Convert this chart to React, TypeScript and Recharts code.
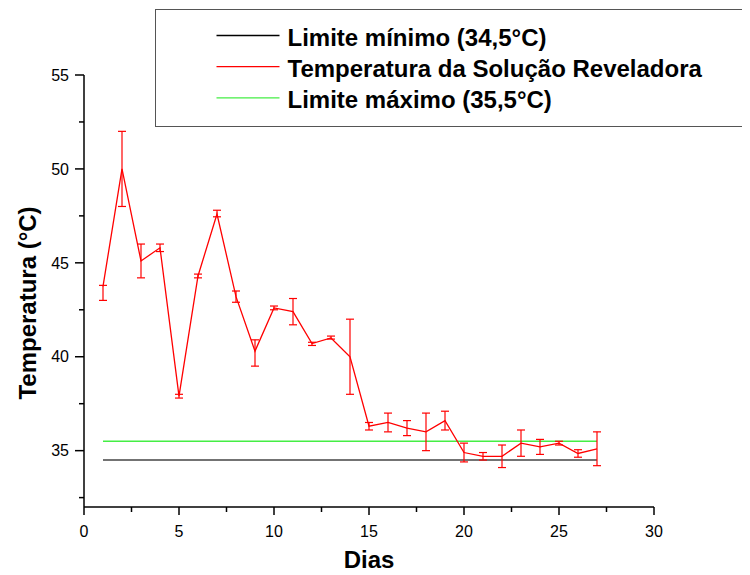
import React from 'react';
import { LineChart, Line, XAxis, YAxis, ErrorBar, Legend } from 'recharts';

const dias = [1, 2, 3, 4, 5, 6, 7, 8, 9, 10, 11, 12, 13, 14, 15, 16, 17, 18, 19, 20, 21, 22, 23, 24, 25, 26, 27];
const temperatura = [43.75, 50.0, 45.1, 45.8, 37.9, 44.3, 47.6, 43.2, 40.3, 42.6, 42.4, 40.7, 41.0, 40.0, 36.3, 36.5, 36.2, 36.0, 36.6, 34.9, 34.7, 34.7, 35.4, 35.2, 35.4, 34.85, 35.1];
const erroInferior = [0.75, 2.0, 0.9, 0.2, 0.1, 0.1, 0.15, 0.3, 0.8, 0.1, 0.7, 0.1, 0.06, 2.0, 0.2, 0.5, 0.4, 1.0, 0.5, 0.5, 0.2, 0.6, 0.7, 0.4, 0.1, 0.2, 0.9];
const erroSuperior = [0.05, 2.0, 0.9, 0.2, 0.1, 0.1, 0.2, 0.3, 0.6, 0.1, 0.7, 0.07, 0.1, 2.0, 0.2, 0.5, 0.4, 1.0, 0.5, 0.5, 0.2, 0.6, 0.7, 0.4, 0.1, 0.2, 0.9];

const limiteMinimo = 34.5;
const limiteMaximo = 35.5;
const limiteDias = [1, 27];

const xTicks = [0, 2.5, 5, 7.5, 10, 12.5, 15, 17.5, 20, 22.5, 25, 27.5, 30];
const yTicks = [32.5, 35, 37.5, 40, 42.5, 45, 47.5, 50, 52.5, 55];

const legendItems = [
  { label: 'Limite mínimo (34,5°C)', color: '#000000' },
  { label: 'Temperatura da Solução Reveladora', color: '#ff0000' },
  { label: 'Limite máximo (35,5°C)', color: '#44ee44' },
];

const tempData = dias.map((d, i) => ({
  dia: d,
  temp: temperatura[i],
  err: [erroInferior[i], erroSuperior[i]],
}));
const minData = limiteDias.map((d) => ({ dia: d, v: limiteMinimo }));
const maxData = limiteDias.map((d) => ({ dia: d, v: limiteMaximo }));

const FONT = '"Liberation Sans", Arial, Helvetica, sans-serif';

const XTick = (props: any) => {
  const { x, y, payload } = props;
  const major = payload.value % 5 === 0;
  return (
    <g>
      <line x1={x} x2={x} y1={y} y2={y + (major ? 8 : 5)} stroke="#000" strokeWidth={1.5} />
      {major && (
        <text x={x} y={y + 29.5} textAnchor="middle" fontFamily={FONT} fontSize={16} fill="#000">
          {payload.value}
        </text>
      )}
    </g>
  );
};

const YTick = (props: any) => {
  const { x, y, payload } = props;
  const major = payload.value % 5 === 0;
  return (
    <g>
      <line x1={x - (major ? 9 : 5)} x2={x} y1={y} y2={y} stroke="#000" strokeWidth={1.5} />
      {major && (
        <text x={x - 15} y={y + 5.7} textAnchor="end" fontFamily={FONT} fontSize={16} fill="#000">
          {payload.value}
        </text>
      )}
    </g>
  );
};

const LegendBox = () => (
  <div
    style={{
      position: 'relative',
      width: 595,
      height: 118,
      boxSizing: 'border-box',
      borderTop: '1.5px solid #555',
      borderLeft: '1.5px solid #555',
      borderBottom: '1.5px solid #555',
      background: '#fff',
    }}
  >
    <svg width={590} height={115} style={{ position: 'absolute', left: 0, top: 0 }}>
      {legendItems.map((it, i) => (
        <g key={it.label}>
          <line x1={60.5} x2={123.5} y1={25.5 + i * 31.2} y2={25.5 + i * 31.2} stroke={it.color} strokeWidth={1.3} />
          <text x={131.5} y={35.5 + i * 31.2} fontFamily={FONT} fontWeight="bold" fontSize={24} fill="#000">
            {it.label}
          </text>
        </g>
      ))}
    </svg>
  </div>
);

export default function App() {
  return (
    <LineChart width={742} height={567} margin={{ top: 67, right: 96, bottom: 0, left: 0 }}>
      <XAxis
        type="number"
        dataKey="dia"
        domain={[0, 30]}
        ticks={xTicks}
        interval={0}
        height={68}
        tickSize={0}
        tickMargin={0}
        tickLine={false}
        axisLine={{ stroke: '#000', strokeWidth: 1.5 }}
        tick={<XTick />}
        allowDuplicatedCategory={false}
        label={(p: any) => {
          const vb = p.viewBox || {};
          return (
            <text x={vb.x + vb.width / 2} y={560} textAnchor="middle" fontFamily={FONT} fontWeight="bold" fontSize={24} fill="#000">
              Dias
            </text>
          );
        }}
      />
      <YAxis
        type="number"
        domain={[32, 55]}
        ticks={yTicks}
        interval={0}
        width={76}
        tickSize={0}
        tickMargin={0}
        tickLine={false}
        axisLine={{ stroke: '#000', strokeWidth: 1.5 }}
        tick={<YTick />}
        label={(p: any) => {
          const cy = 295;
          const cx = 28;
          return (
            <text x={cx} y={cy} transform={`rotate(-90 ${cx} ${cy})`} textAnchor="middle" fontFamily={FONT} fontWeight="bold" fontSize={24} fill="#000">
              Temperatura (°C)
            </text>
          );
        }}
      />
      <Legend
        layout="horizontal"
        verticalAlign="middle"
        align="center"
        wrapperStyle={{ position: 'absolute', left: 147, top: 1, width: 595, height: 118 }}
        content={() => <LegendBox />}
      />
      <Line data={minData} dataKey="v" stroke="#444" strokeWidth={1.5} dot={false} isAnimationActive={false} legendType="none" />
      <Line data={maxData} dataKey="v" stroke="#44ee44" strokeWidth={1.5} dot={false} isAnimationActive={false} legendType="none" />
      <Line data={tempData} dataKey="temp" stroke="#ff0000" strokeWidth={1.3} dot={false} isAnimationActive={false} legendType="none">
        <ErrorBar dataKey="err" direction="y" width={4} stroke="#ff0000" strokeWidth={1.2} isAnimationActive={false} />
      </Line>
    </LineChart>
  );
}
